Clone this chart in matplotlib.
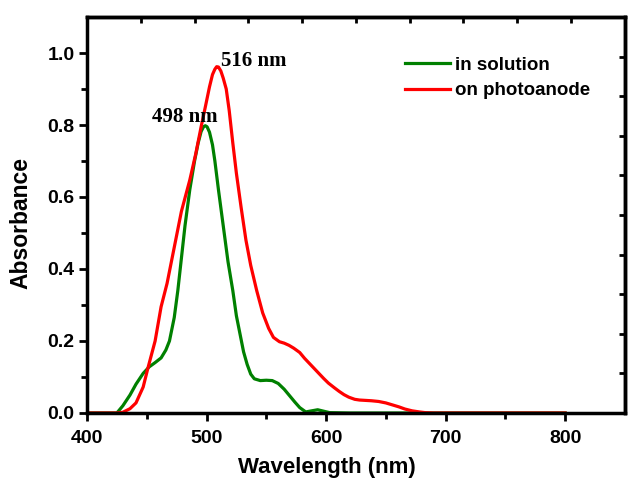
import matplotlib.pyplot as plt
import numpy as np

# green curve, dye in solution (wavelength nm, absorbance)
sol_nm = [400, 420, 425, 430, 436, 441, 447, 452, 457, 462, 466, 469, 473, 476,
          479, 482, 486, 490, 493, 495.5, 497.5, 499, 500.5, 502.5, 505, 507, 510, 514, 518, 522,
          525, 528, 531, 534, 537, 540, 545, 550, 555, 560, 565, 569, 574, 578,
          583, 588, 593, 598, 603, 620, 700, 800]
sol_abs = [0, 0, 0, 0.02, 0.05, 0.08, 0.11, 0.128, 0.14, 0.153, 0.175, 0.2, 0.265, 0.34,
           0.43, 0.52, 0.62, 0.70, 0.75, 0.782, 0.795, 0.798, 0.795, 0.78, 0.745, 0.70, 0.62, 0.52, 0.42, 0.34,
           0.27, 0.22, 0.17, 0.135, 0.108, 0.095, 0.09, 0.091, 0.09, 0.082, 0.066, 0.05, 0.03, 0.015,
           0.003, 0.006, 0.009, 0.005, 0.001, 0, 0, 0]

# red curve, dye adsorbed on photoanode
pa_nm = [400, 425, 430, 436, 441, 447, 451, 457, 462, 467, 473, 479, 486, 491,
         495.5, 499, 502.5, 505, 507, 508.5, 510, 512, 514, 516.5, 519, 522, 525, 529, 533, 537,
         542, 547, 552, 556, 561, 565, 569, 573, 578, 582, 586, 590, 594, 598, 602,
         607, 611, 615, 619, 624, 628, 633, 638, 644, 650, 655, 661, 666, 672, 678,
         683, 690, 800]
pa_abs = [0, 0, 0.002, 0.012, 0.028, 0.072, 0.125, 0.2, 0.295, 0.36, 0.46, 0.56, 0.647, 0.72,
          0.795, 0.85, 0.906, 0.94, 0.955, 0.962, 0.961, 0.95, 0.93, 0.9, 0.84, 0.75, 0.666, 0.57, 0.48, 0.41,
          0.34, 0.278, 0.235, 0.21, 0.198, 0.194, 0.188, 0.18, 0.168, 0.152, 0.138, 0.124, 0.11, 0.096, 0.083,
          0.07, 0.06, 0.051, 0.044, 0.038, 0.036, 0.035, 0.034, 0.032, 0.028, 0.023, 0.017, 0.011, 0.006, 0.003,
          0.001, 0, 0]

plt.rcParams['font.family'] = 'Liberation Sans'
plt.rcParams['font.weight'] = 'bold'

fig = plt.figure(figsize=(6.28, 4.79), dpi=100)
ax = fig.add_axes([0.1385, 0.1378, 0.8565, 0.8267])

ax.plot(sol_nm, sol_abs, color='#008000', lw=2.3, label='in solution')
ax.plot(pa_nm, pa_abs, color='#ff0000', lw=2.3, label='on photoanode')

ax.set_xlim(400, 850)
ax.set_ylim(0, 1.1)
ax.set_xticks([400, 500, 600, 700, 800])
ax.set_xticks([450, 550, 650, 750], minor=True)
ax.set_yticks([0.0, 0.2, 0.4, 0.6, 0.8, 1.0])
ax.set_yticks([0.1, 0.3, 0.5, 0.7, 0.9], minor=True)
ax.yaxis.set_major_formatter(plt.FormatStrFormatter('%.1f'))
ax.tick_params(which='major', direction='out', length=6, width=2, labelsize=14)
ax.tick_params(which='minor', direction='out', length=4, width=2)
ax.tick_params(axis='x', which='major', pad=6)
ax.tick_params(axis='y', which='major', pad=3)
for sp in ax.spines.values():
    sp.set_linewidth(2.5)

# top and right axes carry their own tick spacing
top = ax.secondary_xaxis('top')
top.set_xticks([400 + 45 * k for k in range(1, 10)])
top.set_xticklabels([])
top.tick_params(direction='in', length=4, width=2)
top.spines['top'].set_linewidth(2.5)
right = ax.secondary_yaxis('right')
right.set_yticks([0.11 * k for k in range(1, 10)])
right.set_yticklabels([])
right.tick_params(direction='in', length=4, width=2)
right.spines['right'].set_linewidth(2.5)

ax.set_xlabel('Wavelength (nm)', fontsize=16, fontweight='bold')
ax.xaxis.set_label_coords(0.446, -0.110)
ax.set_ylabel('Absorbance', fontsize=16.5, fontweight='bold')
ax.yaxis.set_label_coords(-0.102, 0.48)

ax.text(512.5, 0.978, '516 nm', family='Liberation Serif', fontsize=15,
        fontweight='bold', va='center', ha='left')
ax.text(454, 0.822, '498 nm', family='Liberation Serif', fontsize=15,
        fontweight='bold', va='center', ha='left')

ax.legend(loc='upper left', bbox_to_anchor=(0.591, 0.90), frameon=False,
          fontsize=13.5, handlelength=2.4, handletextpad=0.3, labelspacing=0.45,
          borderpad=0, borderaxespad=0)

plt.savefig('out.png', dpi=100)
